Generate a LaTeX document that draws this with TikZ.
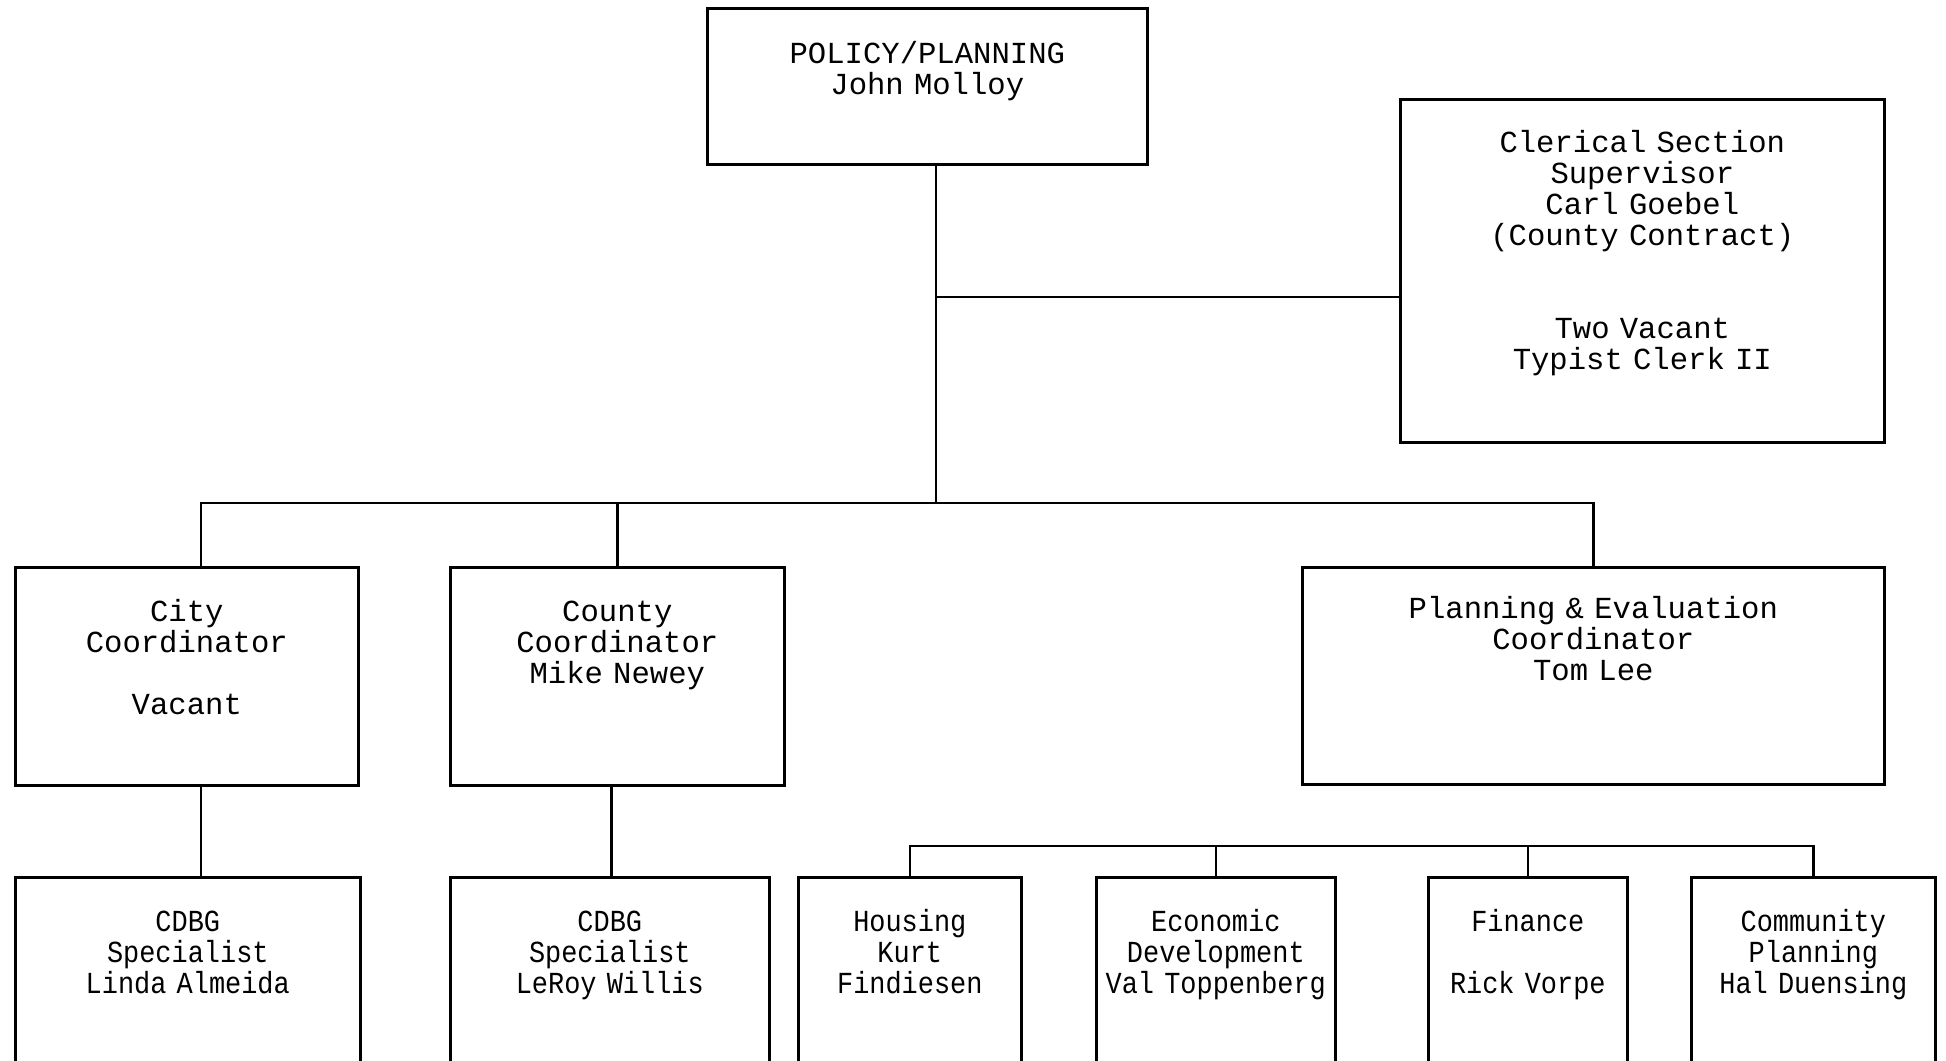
\documentclass[tikz,border=0pt]{standalone}
\usepackage{fontspec}
\setmonofont[WordSpace={1,0,0}]{Liberation Mono}
\newfontfamily\narrowtt[FakeStretch=0.88,WordSpace={1,0,0}]{Liberation Mono}
\usetikzlibrary{positioning}
\tikzset{
  orgbox/.style={draw, line width=1.3pt, inner sep=0pt, anchor=north west,
    align=center, font=\ttfamily\fontsize{15.3}{15.5}\selectfont},
  staffbox/.style={orgbox, font=\narrowtt\fontsize{15.3}{15.5}\selectfont,
    text height=27pt, text depth=85pt},
  wire/.style={line width=1.3pt}
}
\begin{document}
\begin{tikzpicture}[x=0.5pt,y=-0.5pt]
			\useasboundingbox (0,0) rectangle (1946,1060);
			\clip (0,0) rectangle (1946,1060);

			%%draw the top boxes
			\node[orgbox, text width=220pt, text height=27.5pt, text depth=50.5pt] (policy) at (706,7)
				{POLICY/PLANNING\\John Molloy};
			\node[orgbox, text width=242pt, text height=26.5pt, text depth=145pt] (clerical) at (1399,98)
				{Clerical Section\\Supervisor\\Carl Goebel\\(County Contract)\\[31pt]Two Vacant\\Typist Clerk II};

			%%draw the coordinators
			\node[orgbox, text width=171.5pt, text height=27pt, text depth=82pt] (city) at (14,566)
				{City\\Coordinator\\[15.5pt]Vacant};
			\node[orgbox, text width=167pt, text height=27pt, text depth=82pt] (county) at (449,566)
				{County\\Coordinator\\Mike Newey};
			\node[orgbox, text width=291pt, text height=25.5pt, text depth=83pt] (pe) at (1301,566)
				{Planning \& Evaluation\\Coordinator\\Tom Lee};

			%%draw the staff boxes
			\node[staffbox, text width=172.5pt] (cdbgcity) at (14,876)
				{CDBG\\Specialist\\Linda Almeida};
			\node[staffbox, text width=159.5pt] (cdbgcounty) at (449,876)
				{CDBG\\Specialist\\LeRoy Willis};
			\node[staffbox, text width=111.5pt] (housing) at (797,876)
				{Housing\\Kurt\\Findiesen};
			\node[staffbox, text width=119.5pt] (econ) at (1095,876)
				{Economic\\Development\\Val Toppenberg};
			\node[staffbox, text width=99.5pt] (finance) at (1427,876)
				{Finance\\[15.5pt]Rick Vorpe};
			\node[staffbox, text width=122pt] (community) at (1690,876)
				{Community\\Planning\\Hal Duensing};

			%%draw the lines
			\coordinate (topbus) at (936,503);
			\coordinate (clerk) at (936,297);
			\coordinate (lowbus) at (0,846);
			\draw[wire] (policy.south -| topbus) -- (topbus);
			\draw[wire] (clerk) -- (clerk -| clerical.west);
			\draw[wire] ([xshift=7pt]city.north) |- (pe.north |- topbus) -- (pe.north);
			\draw[wire] (county.north) -- (county.north |- topbus);

			%%city and county routes
			\draw[wire] ([xshift=7pt]city.south) -- ([xshift=7pt]city.south |- cdbgcity.north);
			\draw[wire] ([xshift=-3pt]county.south) -- ([xshift=-3pt]county.south |- cdbgcounty.north);

			%%planning staff
			\draw[wire] (housing.north) |- (community.north |- lowbus) -- (community.north);
			\draw[wire] (econ.north) -- (econ.north |- lowbus);
			\draw[wire] (finance.north) -- (finance.north |- lowbus);
\end{tikzpicture}
\end{document}
